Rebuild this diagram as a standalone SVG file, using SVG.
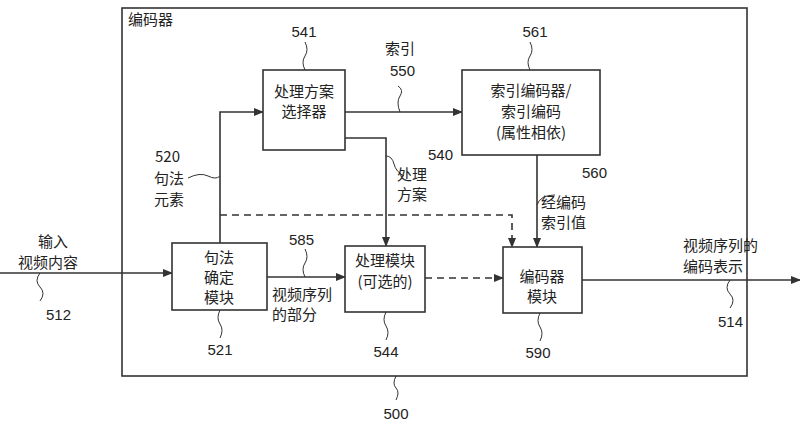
<svg xmlns="http://www.w3.org/2000/svg" width="800" height="427" viewBox="0 0 800 427">
<style>
text{font-family:"Noto Sans CJK SC","Liberation Sans",sans-serif;font-size:15px;fill:#222}
.n{font-family:"Liberation Sans",sans-serif;font-size:15px}
.b{fill:#fff;stroke:#333;stroke-width:1.6}
.l{fill:none;stroke:#333;stroke-width:1.6}
.d{fill:none;stroke:#333;stroke-width:1.6;stroke-dasharray:7,5}
.s{fill:none;stroke:#333;stroke-width:1}
</style>
<defs><marker id="a" markerWidth="10" markerHeight="8" refX="9" refY="4" orient="auto" markerUnits="userSpaceOnUse"><path d="M0,0L10,4L0,8z" fill="#333"/></marker></defs>
<g id="encoder"><rect class="b" x="122" y="8" width="625" height="368" fill="none"/><text x="128" y="25">编码器</text></g>
<g id="connectors">
<line class="l" x1="0" y1="273" x2="172" y2="273" marker-end="url(#a)"/>
<line class="l" x1="582" y1="280" x2="800" y2="280" marker-end="url(#a)"/>
<path class="l" d="M220,243V112H263" marker-end="url(#a)"/>
<path class="d" d="M220,215H512V247" marker-end="url(#a)"/>
<line class="l" x1="345" y1="112" x2="462" y2="112" marker-end="url(#a)"/>
<path class="l" d="M345,138H386V246" marker-end="url(#a)"/>
<line class="l" x1="537" y1="155" x2="537" y2="247" marker-end="url(#a)"/>
<line class="l" x1="267" y1="277" x2="345" y2="277" marker-end="url(#a)"/>
<line class="d" x1="425" y1="278" x2="503" y2="278" marker-end="url(#a)"/>
<path class="s" d="M188,178q12-6,20-2t12,0"/>
<path class="s" d="M386,156q6,0,8,8t10,12"/>
<path class="s" d="M537,205q3-10,18-10"/>
<path class="s" d="M305,277q-4-8,0-14t0-14"/>
<path class="s" d="M400,112q-4-10,0-16t-2-10"/>
<path class="s" d="M40,273q-6,8,0,14t0,14"/>
<path class="s" d="M730,280q-6,8,0,14t0,14"/>
<path class="s" d="M220,310q-4,8,0,14t0,14"/>
<path class="s" d="M386,312q-4,8,0,14t0,14"/>
<path class="s" d="M540,313q-4,8,0,14t0,14"/>
<path class="s" d="M305,70q-4-8,0-14t0-14"/>
<path class="s" d="M530,70q-4-8,0-14t0-14"/>
<path class="s" d="M396,376q-4,8,0,12t0,12"/>
</g>
<g id="n541"><rect class="b" x="263" y="70" width="82" height="80"/><text x="304" y="97" text-anchor="middle">处理方案</text><text x="304" y="117" text-anchor="middle">选择器</text><text class="n" x="304" y="37" text-anchor="middle">541</text></g>
<g id="n561"><rect class="b" x="462" y="70" width="138" height="85"/><text x="531" y="96" text-anchor="middle">索引编码器/</text><text x="531" y="117" text-anchor="middle">索引编码</text><text x="531" y="138" text-anchor="middle">(属性相依)</text><text class="n" x="535" y="37" text-anchor="middle">561</text></g>
<g id="n521"><rect class="b" x="172" y="243" width="95" height="67"/><text x="219" y="263" text-anchor="middle">句法</text><text x="219" y="283" text-anchor="middle">确定</text><text x="219" y="303" text-anchor="middle">模块</text><text class="n" x="220" y="355" text-anchor="middle">521</text></g>
<g id="n544"><rect class="b" x="345" y="246" width="80" height="66"/><text x="385" y="266" text-anchor="middle">处理模块</text><text x="385" y="287" text-anchor="middle">(可选的)</text><text class="n" x="386" y="357" text-anchor="middle">544</text></g>
<g id="n590"><rect class="b" x="503" y="247" width="79" height="66"/><text x="542" y="282" text-anchor="middle">编码器</text><text x="542" y="302" text-anchor="middle">模块</text><text class="n" x="538" y="358" text-anchor="middle">590</text></g>
<g id="labels">
<text x="155" y="162">520</text><text x="154" y="184">句法</text><text x="154" y="205">元素</text>
<text x="397" y="180">处理</text><text x="397" y="200">方案</text><text class="n" x="428" y="160">540</text>
<text x="541" y="208">经编码</text><text x="541" y="228">索引值</text><text class="n" x="582" y="178">560</text>
<text x="385" y="54">索引</text><text class="n" x="390" y="76">550</text>
<text class="n" x="289" y="245">585</text>
<text x="272" y="300">视频序列</text><text x="272" y="320">的部分</text>
<text x="38" y="247">输入</text><text x="18" y="268">视频内容</text><text class="n" x="46" y="320">512</text>
<text x="683" y="251">视频序列的</text><text x="683" y="272">编码表示</text><text class="n" x="718" y="327">514</text>
<text class="n" x="396" y="419" text-anchor="middle">500</text>
</g>
</svg>
